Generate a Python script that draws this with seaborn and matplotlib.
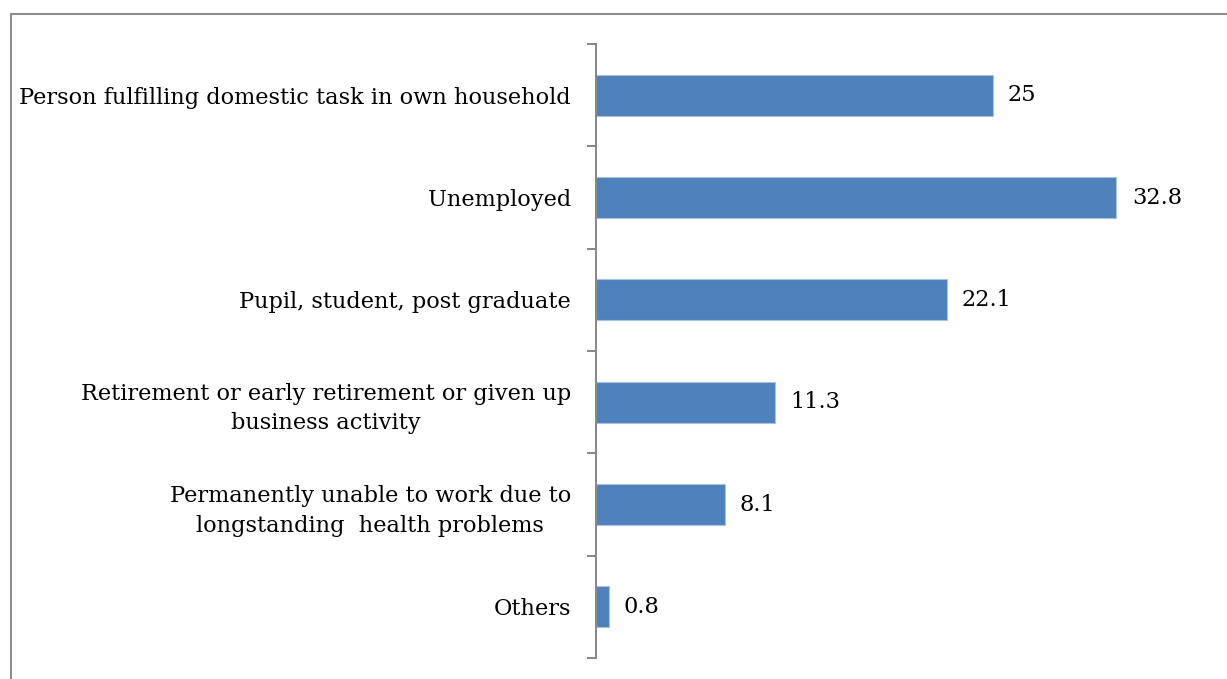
import matplotlib
matplotlib.use("Agg")
import matplotlib.pyplot as plt
import seaborn as sns
import pandas as pd
from matplotlib.lines import Line2D

# Reasons for economic inactivity (%)
categories = [
    "Person fulfilling domestic task in own household",
    "Unemployed",
    "Pupil, student, post graduate",
    "Retirement or early retirement or given up\nbusiness activity",
    "Permanently unable to work due to\nlongstanding  health problems",
    "Others",
]
values = [25, 32.8, 22.1, 11.3, 8.1, 0.8]
value_labels = ["25", "32.8", "22.1", "11.3", "8.1", "0.8"]

sns.set_theme(style="white")
plt.rcParams["font.family"] = ["DejaVu Serif", "Liberation Serif"]
FS = 16.2

W, H = 1227, 679
fig = plt.figure(figsize=(W / 100, H / 100), dpi=100)
ax = fig.add_axes([596 / W, 21 / H, 603 / W, 614 / H])

df = pd.DataFrame({"category": categories, "value": values})
sns.barplot(data=df, x="value", y="category", orient="h", color="#4F81BD",
            width=0.4, saturation=1, edgecolor="#A9C1DF", linewidth=0.8, ax=ax)

ax.set_xlim(0, 38)
ax.set_ylim(len(categories) - 0.5, -0.5)
ax.set_xticks([])
ax.set_xlabel("")
ax.set_ylabel("")
for side in ["top", "right", "bottom"]:
    ax.spines[side].set_visible(False)
ax.spines["left"].set_color("#868686")
ax.spines["left"].set_linewidth(1.4)

ax.set_yticks(range(len(categories)))
ax.set_yticklabels(categories, fontsize=FS, color="black", linespacing=1.45)
for t in ax.get_yticklabels():
    t.set_multialignment("center")
ax.tick_params(axis="y", which="major", length=0, pad=18)
ax.set_yticks([i - 0.5 for i in range(len(categories) + 1)], minor=True)
ax.tick_params(axis="y", which="minor", left=True, length=6.5, width=1.4,
               color="#868686")

ax.bar_label(ax.containers[0], labels=value_labels, padding=11, fontsize=FS,
             color="black")

# outer chart-area border (top and left edges)
border = dict(transform=fig.transFigure, color="#8C8C8C", lw=1.5)
fig.add_artist(Line2D([11 / W, 11 / W], [0, 1 - 14 / H], **border))
fig.add_artist(Line2D([11 / W, 1], [1 - 14 / H, 1 - 14 / H], **border))

fig.savefig("out.png", dpi=100, facecolor="white")
